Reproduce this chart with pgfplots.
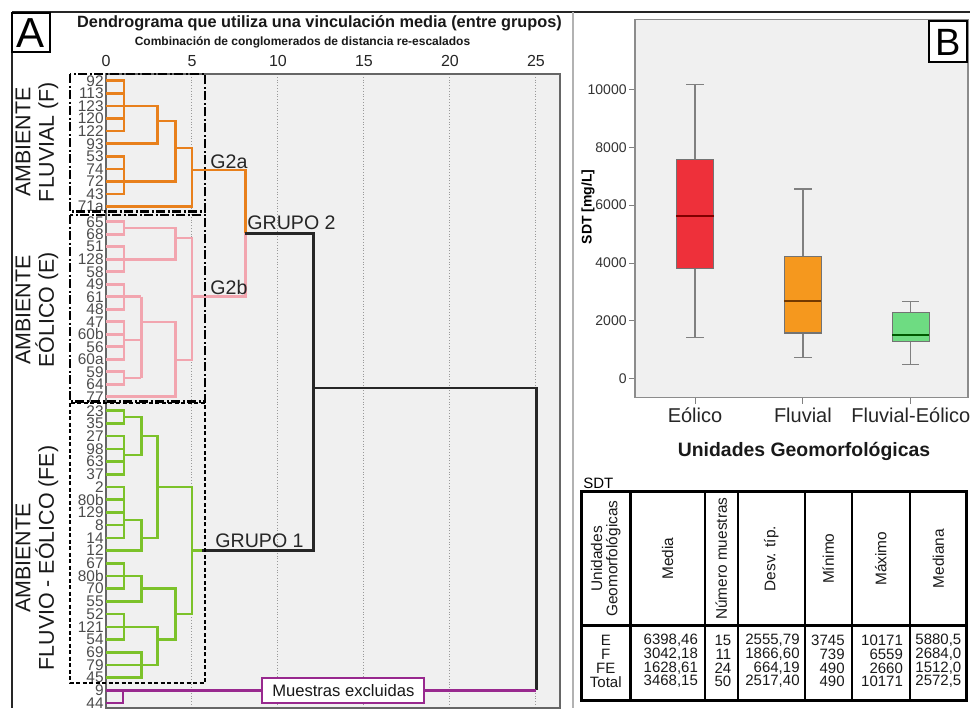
\documentclass[border=0pt]{standalone}
\usepackage{fontspec}
\setmainfont{Liberation Sans}
\usepackage{pgfplots}
\pgfplotsset{compat=1.18}
\definecolor{dorange}{RGB}{232,128,28}
\definecolor{dpink}{RGB}{242,165,175}
\definecolor{dgreen}{RGB}{124,194,42}
\definecolor{dpurple}{RGB}{152,40,142}
\definecolor{plotbg}{RGB}{240,240,240}
\definecolor{bred}{RGB}{238,48,58}
\definecolor{borange}{RGB}{245,152,30}
\definecolor{bgreen}{RGB}{110,220,130}
\newcommand{\myfs}[1]{\fontsize{#1}{#1}\selectfont}
\pgfplotsset{
  fo/.style={dorange, line width=1.3pt, no marks, line join=miter},
  fp/.style={dpink, line width=1.3pt, no marks, line join=miter},
  fg/.style={dgreen, line width=1.3pt, no marks, line join=miter},
  fk/.style={black!85, line width=1.4pt, no marks, line join=miter},
  fu/.style={dpurple, line width=1.2pt, no marks, line join=miter},
}
\begin{document}
\begin{tikzpicture}
\useasboundingbox (0pt,0pt) rectangle (485pt,-354pt);
\fill[white] (0pt,0pt) rectangle (485pt,-354pt);

% ---------------- Dendrogram ----------------
\begin{axis}[
  at={(53pt,-37pt)}, anchor=north west,
  scale only axis, width=227pt, height=317pt,
  xmin=0, xmax=26.4, ymin=74, ymax=708, y dir=reverse,
  axis background/.style={fill=plotbg},
  axis line style={draw=black!60, line width=0.6pt},
  xtick={0,5,10,15,20,25}, xticklabel pos=upper,
  xmajorgrids, grid style={densely dotted, black!40, line width=0.5pt},
  major tick length=0pt,
  ytick={80.7,93.3,105.9,118.5,131.1,143.7,156.3,168.9,181.5,194.1,206.7,221.7,234.2,246.7,259.2,271.7,284.2,296.7,309.2,321.7,334.2,346.7,359.2,371.7,384.2,396.7,410.7,423.4,436.1,448.8,461.5,474.3,487.0,499.7,512.4,525.1,537.8,550.5,563.2,575.9,588.6,601.4,614.1,626.8,639.5,652.2,664.9,677.6,690.3,703.0},
  yticklabels={92,113,123,120,122,93,53,74,72,43,71a,65,68,51,128,58,49,61,48,47,60b,56,60a,59,64,77,23,35,27,98,63,37,2,80b,129,8,14,12,67,80b,70,55,52,121,54,69,79,45,9,44},
  yticklabel style={font=\myfs{7.7pt}, text=black!70, inner sep=1pt},
  xticklabel style={font=\myfs{8pt}, text=black!85},
  /pgf/number format/assume math mode=true,
  unbounded coords=jump,
  clip=false,
]
% Fluvial (orange)
\addplot[fo] coordinates {(0,80.7)(1.05,80.7)(1.05,131.1)(0,131.1) (0,nan) (0,93.3)(1.05,93.3) (0,nan) (0,118.5)(1.05,118.5)
 (0,nan) (0,105.9)(3,105.9)(3,143.7)(0,143.7)
 (0,nan) (0,156.3)(1.05,156.3)(1.05,194.1)(0,194.1) (0,nan) (0,168.9)(1.05,168.9)
 (0,nan) (3,121)(4.05,121)(4.05,181.5)(0,181.5)
 (0,nan) (4.05,148)(5,148)(5,206.7)(0,206.7)
 (0,nan) (5,170)(8.1,170)(8.1,233.3)};
% Eolico (pink)
\addplot[fp] coordinates {(0,221.7)(1.05,221.7)(1.05,234.2)(0,234.2)
 (0,nan) (1.05,228)(4.05,228)(4.05,259.2)(0,259.2)
 (0,nan) (0,246.7)(1.05,246.7)(1.05,271.7)(0,271.7)
 (0,nan) (0,284.2)(1.05,284.2)(1.05,309.2)(0,309.2) (0,nan) (0,296.7)(2.05,296.7)
 (0,nan) (0,321.7)(1.05,321.7)(1.05,359.2)(0,359.2) (0,nan) (0,334.2)(1.05,334.2) (0,nan) (0,346.7)(1.05,346.7) (0,nan) (1.05,340)(2.05,340)
 (0,nan) (0,371.7)(1.05,371.7)(1.05,384.2)(0,384.2) (0,nan) (1.05,378)(2.05,378)
 (0,nan) (2.05,296.7)(2.05,378)
 (0,nan) (2.05,322)(4.05,322)(4.05,396.7)(0,396.7)
 (0,nan) (4.05,238)(5,238)(5,360)(4.05,360)
 (0,nan) (5,296.7)(8.1,296.7)(8.1,233.3)};
% Fluvio-Eolico (green)
\addplot[fg] coordinates {(0,410.7)(1.05,410.7)(1.05,423.4)(0,423.4)
 (0,nan) (1.05,417)(2.05,417)(2.05,455)(1.05,455)
 (0,nan) (0,436.1)(1.05,436.1)(1.05,474.3)(0,474.3) (0,nan) (0,448.8)(1.05,448.8) (0,nan) (0,461.5)(1.05,461.5)
 (0,nan) (2.05,436.1)(3,436.1)(3,537.8)(2.05,537.8)
 (0,nan) (0,487)(1.05,487)(1.05,537.8)(0,537.8) (0,nan) (0,499.7)(1.05,499.7) (0,nan) (0,512.4)(1.05,512.4) (0,nan) (0,525.1)(1.05,525.1)
 (0,nan) (1.05,520)(2.05,520)(2.05,550.5)(0,550.5)
 (0,nan) (3,487)(5,487)(5,614.1)(4.05,614.1)
 (0,nan) (0,563.2)(1.05,563.2)(1.05,588.6)(0,588.6) (0,nan) (0,575.9)(2.05,575.9)(2.05,601.4)(0,601.4)
 (0,nan) (2.05,588.6)(4.05,588.6)(4.05,639.5)(3,639.5)
 (0,nan) (0,614.1)(1.05,614.1)(1.05,639.5)(0,639.5) (0,nan) (0,626.8)(3,626.8)(3,664.9)(0,664.9)
 (0,nan) (0,652.2)(2.05,652.2)(2.05,677.6)(0,677.6)
 (0,nan) (5,550.5)(5.6,550.5)};
% black links
\addplot[fk] coordinates {(5.6,550.5)(12.05,550.5)(12.05,233.3)(8.1,233.3) (0,nan) (12.05,388)(25.03,388)(25.03,690.3)};
% excluded (purple)
\addplot[fu] coordinates {(0,690.3)(25.03,690.3) (0,nan) (0,703)(1,703)(1,690.3)};
\end{axis}

% ---------------- Boxplot ----------------
\begin{axis}[
  at={(317.5pt,-9.65pt)}, anchor=north west,
  scale only axis, width=166.5pt, height=189.2pt,
  xmin=0.444, xmax=3.53, ymin=-656, ymax=12425,
  axis background/.style={fill=plotbg},
  axis line style={draw=black!45, line width=0.6pt},
  xtick={1,2,3}, xticklabels={Eólico,Fluvial,Fluvial-Eólico},
  ytick={0,2000,4000,6000,8000,10000},
  tick align=outside, major tick length=3pt,
  tick style={black!50, line width=0.5pt},
  xtick pos=lower, ytick pos=left,
  scaled y ticks=false,
  yticklabel style={font=\myfs{7pt}, text=black!80, inner sep=1pt, /pgf/number format/1000 sep={}},
  xticklabel style={font=\myfs{10pt}, text=black!85, inner sep=2pt},
  /pgf/number format/assume math mode=true,
  unbounded coords=jump,
]
% whiskers and caps
\addplot[black!50, line width=0.6pt, no marks] coordinates {
 (1,1427)(1,3824) (1,nan) (1,7565)(1,10171) (1,nan) (0.92,1427)(1.08,1427) (1,nan) (0.92,10171)(1.08,10171)
 (1,nan) (2,739)(2,1579) (2,nan) (2,4225)(2,6559) (2,nan) (1.92,739)(2.08,739) (2,nan) (1.92,6559)(2.08,6559)
 (2,nan) (3,490)(3,1289) (3,nan) (3,2290)(3,2660) (3,nan) (2.92,490)(3.08,490) (3,nan) (2.92,2660)(3.08,2660)};
% boxes (Q1 to Q3)
\addplot[draw=black!55, fill=bred, line width=0.6pt, no marks] coordinates {(0.8285,3824)(1.1715,3824)(1.1715,7565)(0.8285,7565)(0.8285,3824)};
\addplot[draw=black!55, fill=borange, line width=0.6pt, no marks] coordinates {(1.8285,1579)(2.1715,1579)(2.1715,4225)(1.8285,4225)(1.8285,1579)};
\addplot[draw=black!55, fill=bgreen, line width=0.6pt, no marks] coordinates {(2.8285,1289)(3.1715,1289)(3.1715,2290)(2.8285,2290)(2.8285,1289)};
% medians
\addplot[red!50!black, line width=1pt, no marks] coordinates {(0.8285,5630)(1.1715,5630)};
\addplot[orange!45!black, line width=1pt, no marks] coordinates {(1.8285,2690)(2.1715,2690)};
\addplot[green!35!black, line width=1pt, no marks] coordinates {(2.8285,1512)(3.1715,1512)};
\end{axis}

% ---------------- Decorations (pixel coordinates) ----------------
\begin{scope}[x=0.5pt, y=-0.5pt]
% frames
\draw[black!85, line width=1pt] (12,12) -- (970,12);
\draw[black!85, line width=0.8pt] (12,12) -- (12,708);
\draw[black!30, line width=0.6pt] (573,12) -- (573,708);
% panel letters
\draw[black, fill=white, line width=0.6pt] (12,13) rectangle (50,52);
\node[font=\myfs{21pt}, inner sep=0pt] at (31,33) {A};
\draw[black, fill=white, line width=0.6pt] (929,21) rectangle (967,62);
\node[font=\myfs{19pt}, inner sep=0pt] at (948,42) {B};
% titles
\node[font=\myfs{8.15pt}\bfseries, text=black!90, inner sep=0pt] at (319.5,23) {Dendrograma que utiliza una vinculación media (entre grupos)};
\node[font=\myfs{6pt}\bfseries, text=black!90, inner sep=0pt] at (302.5,42) {Combinación de conglomerados de distancia re-escalados};
% group boxes
\draw[black, line width=1.25pt, dash pattern=on 4.5pt off 1.25pt on 1pt off 1.25pt] (70,74) rectangle (205,211.7);
\draw[black, line width=1.25pt, dash pattern=on 4.5pt off 1.25pt on 1pt off 1.25pt] (70,215) rectangle (205,401.7);
\draw[black, line width=1.25pt, dash pattern=on 2pt off 1.25pt] (70,403) rectangle (205,683);
% side labels
\node[rotate=90, align=center, font=\myfs{10.7pt}, text=black!90, inner sep=0pt] at (37,142) {AMBIENTE\\[1pt]FLUVIAL (F)};
\node[rotate=90, align=center, font=\myfs{10.7pt}, text=black!90, inner sep=0pt] at (37,310) {AMBIENTE\\[1pt]EÓLICO (E)};
\node[rotate=90, align=center, font=\myfs{10.7pt}, text=black!90, inner sep=0pt] at (37,558) {AMBIENTE\\[1pt]FLUVIO - EÓLICO (FE)};
% group labels
\node[anchor=west, font=\myfs{9.8pt}, text=black!85, inner sep=0pt] at (210,162) {G2a};
\node[anchor=west, font=\myfs{9.8pt}, text=black!85, inner sep=0pt] at (210,287) {G2b};
\node[anchor=west, font=\myfs{9.8pt}, text=black!85, inner sep=0pt] at (247,223) {GRUPO 2};
\node[anchor=west, font=\myfs{9.8pt}, text=black!85, inner sep=0pt] at (215,541) {GRUPO 1};
% excluded box
\draw[dpurple, fill=white, line width=1pt] (262.3,678.3) rectangle (424.3,703.3);
\node[font=\myfs{8.3pt}, text=black!90, inner sep=0pt] at (343.3,691) {Muestras excluidas};
% boxplot labels
\node[rotate=90, font=\myfs{7pt}\bfseries, inner sep=0pt] at (588,207) {SDT [mg/L]};
\node[font=\myfs{9.7pt}\bfseries, text=black!90, inner sep=0pt] at (804,451) {Unidades Geomorfológicas};
% table
\node[anchor=west, font=\myfs{7.5pt}, inner sep=0pt] at (583,483) {SDT};
\draw[black, line width=1.5pt] (581.7,491.7) rectangle (966.7,700);
\draw[black, line width=1.5pt] (581.7,625.7) -- (966.7,625.7);
\draw[black, line width=1.5pt] (630,491.7) -- (630,700);
\foreach \xx in {705,737.7,805,851.7,910} {\draw[black, line width=1pt] (\xx,491.7) -- (\xx,700);}
\begin{scope}[every node/.style={rotate=90, font=\myfs{7.7pt}, inner sep=0pt, text=black!90}]
\node[align=center] at (605.8,558.7) {Unidades\\Geomorfológicas};
\node at (667.5,558.7) {Media};
\node at (721.3,558.7) {Número muestras};
\node at (771.3,558.7) {Desv. típ.};
\node at (828.3,558.7) {Mínimo};
\node at (880.8,558.7) {Máximo};
\node at (938.3,558.7) {Mediana};
\end{scope}
\begin{scope}[every node/.style={font=\myfs{7.5pt}, inner sep=0pt, text=black!90}]
\node at (605.8,640) {E};
\node at (605.8,654.3) {F};
\node at (605.8,668.3) {FE};
\node at (605.8,681.7) {Total};
\node[anchor=east] at (698.3,640) {6398,46};
\node[anchor=east] at (698.3,654.3) {3042,18};
\node[anchor=east] at (698.3,668.3) {1628,61};
\node[anchor=east] at (698.3,681.7) {3468,15};
\node[anchor=east] at (731.7,640) {15};
\node[anchor=east] at (731.7,654.3) {11};
\node[anchor=east] at (731.7,668.3) {24};
\node[anchor=east] at (731.7,681.7) {50};
\node[anchor=east] at (800,640) {2555,79};
\node[anchor=east] at (800,654.3) {1866,60};
\node[anchor=east] at (800,668.3) {664,19};
\node[anchor=east] at (800,681.7) {2517,40};
\node[anchor=east] at (845,640) {3745};
\node[anchor=east] at (845,654.3) {739};
\node[anchor=east] at (845,668.3) {490};
\node[anchor=east] at (845,681.7) {490};
\node[anchor=east] at (903.3,640) {10171};
\node[anchor=east] at (903.3,654.3) {6559};
\node[anchor=east] at (903.3,668.3) {2660};
\node[anchor=east] at (903.3,681.7) {10171};
\node[anchor=east] at (961.7,640) {5880,5};
\node[anchor=east] at (961.7,654.3) {2684,0};
\node[anchor=east] at (961.7,668.3) {1512,0};
\node[anchor=east] at (961.7,681.7) {2572,5};
\end{scope}
\end{scope}
\end{tikzpicture}
\end{document}
